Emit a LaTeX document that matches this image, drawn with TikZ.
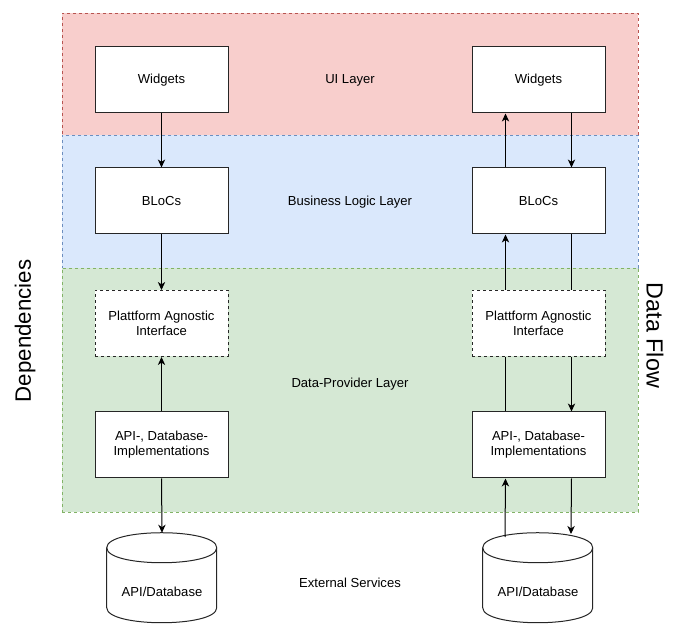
\documentclass[tikz,border=0pt]{standalone}
\usepackage{fontspec}
\setmainfont{Liberation Sans}
\usetikzlibrary{arrows.meta}
\definecolor{uifill}{HTML}{F8CECC}\definecolor{uidraw}{HTML}{B85450}
\definecolor{blfill}{HTML}{DAE8FC}\definecolor{bldraw}{HTML}{6C8EBF}
\definecolor{dpfill}{HTML}{D5E8D4}\definecolor{dpdraw}{HTML}{82B366}
\begin{document}
\begin{tikzpicture}[x=0.75pt,y=-0.75pt,
  band/.style={draw, dashed, dash pattern=on 2.25pt off 2.25pt, line width=0.6pt, minimum width=432pt, inner sep=0pt},
  box/.style={draw=black!85, fill=white, line width=0.75pt, minimum width=99.75pt, minimum height=49.5pt, inner sep=0pt, align=center, font=\fontsize{9.8}{11.3}\selectfont},
  dbox/.style={box, dashed, dash pattern=on 2.25pt off 2.25pt},
  lbl/.style={font=\fontsize{9.8}{11.3}\selectfont, inner sep=0pt},
  arr/.style={line width=0.75pt, -{Stealth[length=6pt,width=5.5pt,inset=1.8pt]}},
  ln/.style={line width=0.75pt}
]
\useasboundingbox (0,0) rectangle (689,630);
% layers
\node[band, draw=uidraw, fill=uifill, minimum height=91.5pt] (ui) at (350,74) {};
\node[band, draw=bldraw, fill=blfill, minimum height=99.75pt] (bl) at (350,201.5) {};
\node[band, draw=dpdraw, fill=dpfill, minimum height=183pt] (dp) at (350,390) {};
\node[lbl] (uil) at (350,80) {UI Layer};
\node[lbl] (bll) at (350,202) {Business Logic Layer};
\node[lbl] (dpl) at (350,384) {Data-Provider Layer};
\node[lbl] (exl) at (350,583) {External Services};
\node[font=\fontsize{16.7}{20}\selectfont, inner sep=0pt, rotate=90] (dep) at (25,331) {Dependencies};
\node[font=\fontsize{17.5}{21}\selectfont, inner sep=0pt, rotate=-90] (flow) at (655,335.5) {Data Flow};
% left column
\node[box] (w1) at (161.5,80) {Widgets};
\node[box] (b1) at (161.5,201) {BLoCs};
\node[dbox] (p1) at (161.5,323.5) {Plattform Agnostic\\Interface};
\node[box] (a1) at (161.5,445) {API-, Database-\\Implementations};
% right column
\node[box] (w2) at (538.5,80) {Widgets};
\node[box] (b2) at (538.5,201) {BLoCs};
\node[dbox] (p2) at (538.5,323.5) {Plattform Agnostic\\Interface};
\node[box] (a2) at (538.5,445) {API-, Database-\\Implementations};
% cylinders
\foreach \n/\cx in {d1/162, d2/538}{
  \node[inner sep=0pt, minimum width=82.5pt, minimum height=67.5pt] (\n) at (\cx,578) {};
  \draw[fill=white, line width=0.75pt, draw=black!85]
    (\n.north west) ++(0,15) .. controls +(0,-20) and +(0,-20) .. ++(110,0)
    -- ++(0,60) .. controls +(0,20) and +(0,20) .. ++(-110,0) -- cycle;
  \draw[line width=0.75pt, draw=black!85]
    (\n.north west) ++(0,15) .. controls +(0,20) and +(0,20) .. ++(110,0);
  \node[lbl] (\n t) at (\cx,592) {API/Database};
}
% left connectors
\draw[arr] (w1.south) -- (b1.north);
\draw[arr] (b1.south) -- (p1.north);
\draw[arr] (a1.north) -- (p1.south);
\draw[arr] (a1.south) -- (d1.north);
% right connectors
\draw[arr] ([xshift=-24.75pt]b2.north) -- ([xshift=-24.75pt]w2.south);
\draw[arr] ([xshift=24.75pt]w2.south) -- ([xshift=24.75pt]b2.north);
\draw[arr] ([xshift=-24.75pt]p2.north) -- ([xshift=-24.75pt]b2.south);
\draw[ln] ([xshift=24.75pt]b2.south) -- ([xshift=24.75pt]p2.north);
\draw[ln] ([xshift=-24.75pt]a2.north) -- ([xshift=-24.75pt]p2.south);
\draw[arr] ([xshift=24.75pt]p2.south) -- ([xshift=24.75pt]a2.north);
\coordinate (d2l) at (505,537);
\coordinate (d2r) at (571,534);
\draw[arr] (d2l) -- ([xshift=-24.75pt]a2.south);
\draw[arr] ([xshift=24.75pt]a2.south) -- (d2r);
\end{tikzpicture}
\end{document}
